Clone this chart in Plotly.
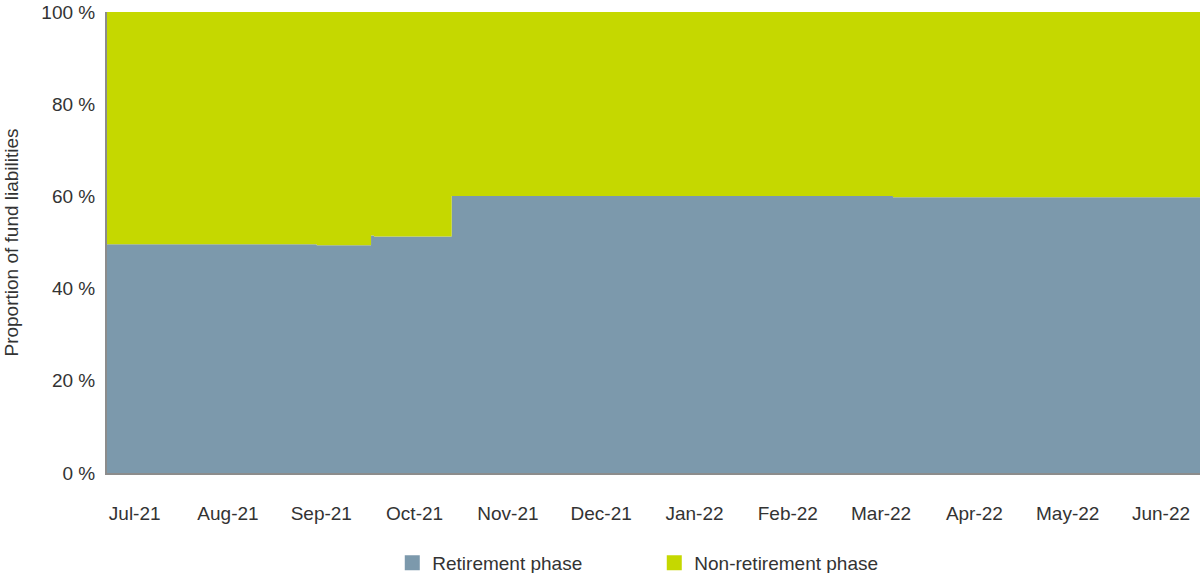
import plotly.graph_objects as go

# Month category labels (tick positions are month indices 0..11)
months = ["Jul-21", "Aug-21", "Sep-21", "Oct-21", "Nov-21", "Dec-21",
          "Jan-22", "Feb-22", "Mar-22", "Apr-22", "May-22", "Jun-22"]
y_ticks = [0, 20, 40, 60, 80, 100]
y_tick_labels = ["0 %", "20 %", "40 %", "60 %", "80 %", "100 %"]
y_title = "Proportion of fund liabilities"

# Points (in month-index units) where the proportion changes
change_points = [-0.297, 1.951, 2.533, 2.565, 3.397, 8.127, 11.418]
# Share of fund liabilities in retirement phase (%) from each change point onward
retirement = [49.6, 49.4, 51.5, 51.3, 60.1, 59.8, 59.8]
# Share in non-retirement phase (%)
non_retirement = [100 - v for v in retirement]

BLUE = "#7C99AC"
GREEN = "#C5D800"
FONT = "Liberation Sans, Arial, sans-serif"

fig = go.Figure()
fig.add_trace(go.Scatter(
    x=change_points, y=retirement, stackgroup="one", mode="lines",
    line=dict(width=0, shape="hv"), fillcolor=BLUE, showlegend=False,
    name="Retirement phase"))
fig.add_trace(go.Scatter(
    x=change_points, y=non_retirement, stackgroup="one", mode="lines",
    line=dict(width=0, shape="hv"), fillcolor=GREEN, showlegend=False,
    name="Non-retirement phase"))

# legend entries as square markers
fig.add_trace(go.Scatter(x=[None], y=[None], mode="markers", name="Retirement phase",
                         marker=dict(symbol="square", size=15, color=BLUE)))
fig.add_trace(go.Scatter(x=[None], y=[None], mode="markers", name="Non-retirement phase",
                         marker=dict(symbol="square", size=15, color=GREEN)))

fig.update_layout(
    width=1200, height=573,
    margin=dict(l=107, r=0, t=12, b=100),
    paper_bgcolor="white", plot_bgcolor="white",
    font=dict(family=FONT, size=19, color="#333333"),
    showlegend=True,
    legend=dict(orientation="h", traceorder="normal",
                x=0.261, xanchor="left", xref="paper",
                y=0.0175, yanchor="middle", yref="container",
                entrywidth=217, entrywidthmode="pixels",
                font=dict(family=FONT, size=19, color="#333333"),
                bgcolor="rgba(0,0,0,0)"),
    annotations=[dict(text=y_title, textangle=-90, showarrow=False,
                      xref="paper", yref="paper", x=-0.0878, y=0.5,
                      xanchor="center", yanchor="middle",
                      font=dict(family=FONT, size=19, color="#333333"))],
)
fig.update_xaxes(
    range=[change_points[0], change_points[-1]],
    tickmode="array", tickvals=list(range(len(months))), ticktext=months,
    showgrid=False, zeroline=False,
    showline=True, linecolor="#8C8C8C", linewidth=2,
    ticks="", ticklabelstandoff=22,
    tickfont=dict(family=FONT, size=19, color="#333333"),
)
fig.update_yaxes(
    range=[0, 100], tickmode="array", tickvals=y_ticks, ticktext=y_tick_labels,
    showgrid=False, zeroline=False,
    showline=True, linecolor="#8C8C8C", linewidth=2,
    ticks="", ticklabelstandoff=6,
    tickfont=dict(family=FONT, size=19, color="#333333"),
)

fig.write_html("out.html", config={"displayModeBar": False},
               post_script="document.body.style.margin='0px';")
